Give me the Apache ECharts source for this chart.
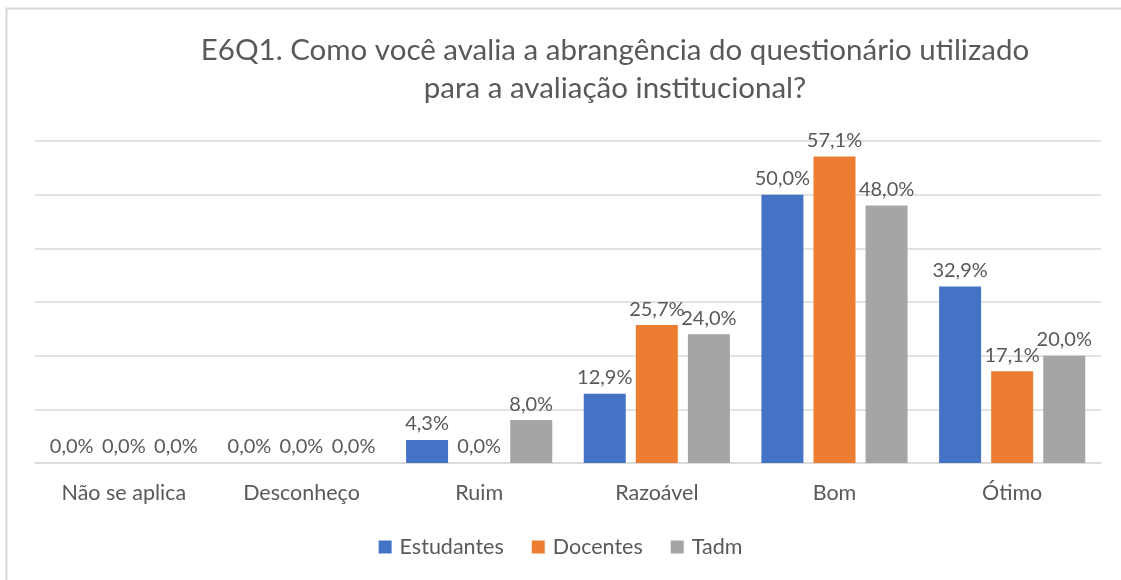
<!DOCTYPE html>
<html>
<head>
<meta charset="utf-8">
<script src="https://cdn.jsdelivr.net/npm/echarts@6/dist/echarts.min.js"></script>
<style>
  html, body { margin: 0; padding: 0; background: #ffffff; }
  #chart { width: 1121px; height: 580px; }
</style>
</head>
<body>
<div id="chart"></div>
<script>
// Categories and answer shares (%) per respondent group
const categories = ['Não se aplica', 'Desconheço', 'Ruim', 'Razoável', 'Bom', 'Ótimo'];
const estudantes = [0.0, 0.0, 4.3, 12.9, 50.0, 32.9];
const docentes   = [0.0, 0.0, 0.0, 25.7, 57.1, 17.1];
const tadm       = [0.0, 0.0, 8.0, 24.0, 48.0, 20.0];
const seriesNames = ['Estudantes', 'Docentes', 'Tadm'];
const colors = ['#4472C4', '#ED7D31', '#A5A5A5'];

const FONT = 'Lato, "Open Sans", sans-serif';
const TEXT = '#595959';

const fmt = v => v.toFixed(1).replace('.', ',') + '%';

function barSeries(name, data, color) {
  return {
    name: name,
    type: 'bar',
    data: data,
    barWidth: 42,
    barGap: '24%',
    itemStyle: { color: color },
    label: {
      show: true,
      position: 'top',
      distance: 6,
      fontFamily: FONT,
      fontSize: 20,
      color: TEXT,
      formatter: p => fmt(p.value)
    }
  };
}

const chart = echarts.init(document.getElementById('chart'));
chart.setOption({
  animation: false,
  backgroundColor: '#ffffff',
  title: {
    text: 'E6Q1. Como você avalia a abrangência do questionário utilizado\npara a avaliação institucional?',
    left: 610,
    top: 26,
    textAlign: 'center',
    textStyle: {
      fontFamily: FONT,
      fontSize: 29.5,
      fontWeight: 'normal',
      color: TEXT,
      lineHeight: 38
    }
  },
  graphic: [{
    type: 'rect',
    shape: { x: 6.5, y: 8.5, width: 1200, height: 700 },
    style: { fill: 'none', stroke: '#d9d9d9', lineWidth: 2 },
    silent: true,
    z: -1
  }],
  legend: {
    data: seriesNames,
    left: 'center',
    bottom: 17,
    icon: 'rect',
    itemWidth: 13,
    itemHeight: 13,
    itemGap: 28,
    textStyle: { fontFamily: FONT, fontSize: 21.5, color: TEXT, padding: [0, 0, 0, 3] }
  },
  grid: { left: 35, right: 20, top: 141, bottom: 117, containLabel: false },
  xAxis: {
    type: 'category',
    data: categories,
    axisLine: { lineStyle: { color: '#d9d9d9', width: 1.5 } },
    axisTick: { show: false },
    axisLabel: { fontFamily: FONT, fontSize: 21.5, color: TEXT, margin: 19 }
  },
  yAxis: {
    type: 'value',
    min: 0,
    max: 60,
    interval: 10,
    axisLabel: { show: false },
    axisLine: { show: false },
    axisTick: { show: false },
    splitLine: { lineStyle: { color: '#d9d9d9', width: 1.5 } }
  },
  series: [
    barSeries(seriesNames[0], estudantes, colors[0]),
    barSeries(seriesNames[1], docentes, colors[1]),
    barSeries(seriesNames[2], tadm, colors[2])
  ]
});
</script>
</body>
</html>
